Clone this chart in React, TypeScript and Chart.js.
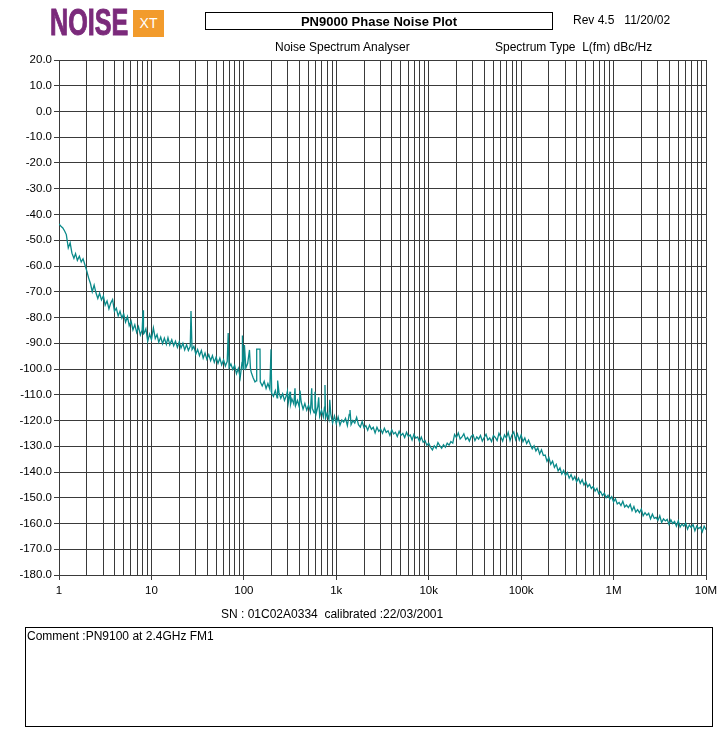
import React, { useEffect, useRef } from 'react';
import { Chart, registerables } from 'chart.js';

Chart.register(...registerables);

// ---- Data: offset frequency (Hz) and phase noise L(fm) (dBc/Hz) ----
const DEC1_HZ = [1, 1.05, 1.1, 1.15, 1.2, 1.26, 1.32, 1.38, 1.45, 1.51, 1.58, 1.66, 1.74, 1.82, 1.91, 2, 2.09, 2.19, 2.29, 2.4, 2.51, 2.63, 2.75, 2.88, 3.02, 3.16, 3.31, 3.47, 3.63, 3.8, 3.98, 4.17, 4.37, 4.57, 4.79, 5.01, 5.25, 5.5, 5.75, 6.03, 6.31, 6.61, 6.92, 7.24, 7.59, 7.94, 8.12, 8.2, 8.32, 8.71, 9.12, 9.55];
const DEC1_DB = [-43.6, -44.6, -45.2, -46.4, -47.8, -53, -51, -55, -57, -55.2, -57.8, -56.2, -58.4, -57.2, -59.6, -62, -64.6, -66.8, -70, -67.4, -70.4, -72.6, -70.6, -73.2, -71.6, -75.2, -73.6, -76.6, -74.4, -73, -77.6, -76.4, -79.4, -77.6, -80.2, -78.6, -81.8, -79.6, -83.2, -81.4, -84.8, -82.8, -85.8, -83.6, -86.8, -84.8, -77.2, -86.4, -86.2, -84.4, -89.2, -86.4];

const DEC2_HZ = [10, 10.5, 11, 11.5, 12, 12.6, 13.2, 13.8, 14.5, 15.1, 15.8, 16.6, 17.4, 18.2, 19.1, 20, 20.9, 21.9, 22.9, 24, 25.1, 26.3, 26.8, 27.5, 28.8, 30.2, 31.6, 33.1, 34.7, 36.3, 38, 39.8, 41.7, 43.7, 45.7, 47.9, 50.1, 52.5, 55, 57.5, 60.3, 63.1, 66.1, 67.7, 69.2, 72.4, 75.9, 79.4, 83.2, 87.1, 91.2, 95.5, 96.5, 98];
const DEC2_DB = [-88.6, -84, -88.2, -86.6, -89.6, -87.6, -90.2, -88, -90.4, -87.8, -90.6, -88.6, -91, -89.2, -91.6, -89.4, -91.8, -90, -92.6, -90.6, -92.8, -91.2, -77.5, -92.4, -91.2, -94.2, -92.4, -94.8, -92.8, -95.8, -93.8, -96.2, -94.4, -96.8, -94.8, -97.4, -95.4, -97.8, -95.8, -98.4, -96.4, -98.8, -97, -86, -99.4, -98, -100.2, -98.6, -101.8, -99.8, -103.4, -97.4, -87, -100];

const DEC3_HZ = [100, 101.5, 105, 110, 115, 118, 120, 126, 132, 136, 137.7, 145, 149.5, 150.5, 158, 166, 174, 182, 191, 196.6, 200, 209, 219, 229, 232, 240, 251, 263, 275, 288, 296, 302, 316, 320, 331, 347, 357.5, 363, 380, 398, 405, 417, 437, 457, 479, 501, 525, 542, 550, 575, 588.4, 603, 631, 645, 661, 692, 724, 745, 754.7, 765, 794, 832, 850, 871, 912, 955];
const DEC3_DB = [-99.2, -90.7, -99.6, -97.8, -92.6, -100, -101.2, -103.4, -105, -104.6, -92.3, -92.3, -92.3, -105, -106.6, -104.8, -107.6, -105.6, -107.8, -92.3, -109.4, -110.6, -108.4, -111.2, -104.5, -109.2, -111.4, -109.6, -112.2, -110.4, -108.6, -113.2, -108.8, -113.8, -111.6, -113.6, -107.5, -114.2, -112.2, -114.8, -108.4, -112.8, -115.6, -113.4, -116, -114, -116.6, -107.5, -115.2, -117, -108.8, -117.6, -114.6, -111, -118.4, -116, -118.6, -114.8, -106.2, -119.2, -117.2, -119.6, -112, -117.4, -121, -118.2];

const DEC4_HZ = [1000, 1047, 1096, 1148, 1202, 1259, 1318, 1380, 1407, 1445, 1514, 1585, 1660, 1738, 1820, 1905, 1995, 2089, 2188, 2291, 2399, 2512, 2630, 2754, 2884, 3020, 3162, 3311, 3467, 3631, 3802, 3981, 4169, 4365, 4571, 4786, 5012, 5248, 5495, 5754, 6026, 6310, 6607, 6918, 7244, 7586, 7943, 8318, 8710, 9120, 9550];
const DEC4_DB = [-121.2, -118.6, -121.8, -119.8, -120.6, -119.2, -122, -117.6, -115.9, -121.6, -120, -121, -118.8, -121.6, -122.6, -120.4, -122.8, -122, -123.8, -121.8, -123.4, -122.6, -124.8, -122.6, -124.2, -123.4, -125, -123, -124.6, -124, -125.8, -123.6, -125.2, -124.6, -126.2, -124.2, -125.8, -125, -126.6, -124.6, -126.2, -125.6, -127.6, -125.4, -126.8, -126.4, -128.2, -126.4, -128.4, -127.8, -129.6];

const DEC5_HZ = [10000, 10470, 10960, 11480, 12020, 12590, 13180, 13800, 14450, 15140, 15850, 16600, 17380, 18200, 19050, 19950, 20890, 21880, 22910, 23990, 25120, 26300, 27540, 28840, 30200, 31620, 33110, 34670, 36310, 38020, 39810, 41690, 43650, 45710, 47860, 50120, 52480, 54950, 57540, 60260, 63100, 66070, 69180, 72440, 75860, 79430, 83180, 87100, 91200, 95500];
const DEC5_DB = [-128.8, -130.4, -131.4, -129.8, -130.8, -128.6, -129.8, -130.8, -129.4, -130.4, -128.8, -129.6, -128.2, -128.8, -125.4, -126.6, -124.8, -127.2, -126.4, -125.2, -127.4, -126.6, -128, -126.2, -125.6, -127.8, -126.4, -127.2, -125.8, -128, -126.6, -125.4, -127.6, -126.8, -128.2, -125.8, -126.6, -127.8, -125, -126.4, -128, -125.6, -126.8, -124.6, -127.8, -125.6, -124.4, -127.4, -125.2, -127.6];

const DEC6_HZ = [100000, 104700, 109600, 114800, 120200, 125900, 131800, 138000, 144500, 151400, 158500, 166000, 173800, 182000, 190500, 199500, 208900, 218800, 229100, 239900, 251200, 263000, 275400, 288400, 302000, 316200, 331100, 346700, 363100, 380200, 398100, 416900, 436500, 457100, 478600, 501200, 524800, 549500, 575400, 602600, 631000, 660700, 691800, 724400, 758600, 794300, 831800, 871000, 912000, 955000];
const DEC6_DB = [-125.6, -128.2, -126.8, -129, -127.6, -129.4, -131, -129.8, -131.8, -130.6, -133, -131.4, -133.6, -133.4, -135.8, -134.4, -137, -135.8, -138.2, -137, -139.6, -138.4, -140.8, -139.4, -141.4, -140.2, -142.4, -141, -143, -141.8, -143.8, -142.4, -144.4, -143, -145, -143.8, -145.8, -144.8, -146.4, -145.6, -147.4, -146.4, -148.4, -147.6, -149.2, -148.2, -150, -149, -150.6, -149.6];

const DEC7_HZ = [1000000, 1047000, 1096000, 1148000, 1202000, 1259000, 1318000, 1380000, 1445000, 1514000, 1585000, 1660000, 1738000, 1820000, 1905000, 1995000, 2089000, 2188000, 2291000, 2399000, 2512000, 2630000, 2754000, 2884000, 3020000, 3162000, 3311000, 3467000, 3631000, 3802000, 3981000, 4169000, 4365000, 4571000, 4786000, 5012000, 5248000, 5495000, 5754000, 6026000, 6310000, 6607000, 6918000, 7244000, 7586000, 7943000, 8318000, 8710000, 9120000, 9550000, 10000000];
const DEC7_DB = [-151.6, -150.4, -152.4, -151.8, -153, -151.4, -153.6, -152.8, -153.8, -152.6, -155, -153.4, -155.6, -154.6, -155.8, -154.4, -157, -155.8, -156.8, -156, -158.2, -156.4, -158, -157.6, -158.8, -157, -159.6, -158.2, -159, -158.4, -160.4, -158.6, -160, -159.2, -161, -159, -161.4, -160.2, -161, -159.8, -162.2, -160.6, -161.6, -160.4, -162.8, -161, -162, -161.4, -163.2, -161, -162.4];

// ---- Axes ----
const X_TICK_LABELS = ['1', '10', '100', '1k', '10k', '100k', '1M', '10M'];
const X_GRID_MANTISSAS = [1, 2, 3, 4, 5, 6, 7, 8, 9];
const X_MIN = 1;
const X_MAX = 10000000;
const Y_MIN = -180;
const Y_MAX = 20;
const Y_STEP = 10;

// ---- Texts ----
const TITLE = 'PN9000 Phase Noise Plot';
const REV_TEXT = 'Rev 4.5   11/20/02';
const ANALYSER_TEXT = 'Noise Spectrum Analyser';
const SPECTRUM_TYPE_TEXT = 'Spectrum Type  L(fm) dBc/Hz';
const SN_TEXT = 'SN : 01C02A0334  calibrated :22/03/2001';
const COMMENT_TEXT = 'Comment :PN9100 at 2.4GHz FM1';

const TRACE_COLOR = '#0a8a8a';
const GRID_COLOR = '#3a3a3a';
const FONT = "'Liberation Sans', Arial, sans-serif";

function isDecade(v: number) {
  const l = Math.log10(v);
  return Math.abs(l - Math.round(l)) < 1e-9;
}

const textStyle = (left: number, top: number, extra: React.CSSProperties = {}): React.CSSProperties => ({
  position: 'absolute',
  left,
  top,
  fontFamily: FONT,
  fontSize: 12,
  lineHeight: '14px',
  color: '#000',
  whiteSpace: 'pre',
  ...extra,
});

export default function App() {
  const canvasRef = useRef<HTMLCanvasElement | null>(null);

  useEffect(() => {
    const hz = [...DEC1_HZ, ...DEC2_HZ, ...DEC3_HZ, ...DEC4_HZ, ...DEC5_HZ, ...DEC6_HZ, ...DEC7_HZ];
    const db = [...DEC1_DB, ...DEC2_DB, ...DEC3_DB, ...DEC4_DB, ...DEC5_DB, ...DEC6_DB, ...DEC7_DB];
    const points = hz.map((f, i) => ({ x: f, y: db[i] }));

    const gridHz: number[] = [];
    for (let d = 0; d < X_TICK_LABELS.length - 1; d++) {
      for (const m of X_GRID_MANTISSAS) gridHz.push(m * Math.pow(10, d));
    }
    gridHz.push(X_MAX);

    const chart = new Chart(canvasRef.current as HTMLCanvasElement, {
      type: 'line',
      data: {
        datasets: [
          {
            data: points,
            borderColor: TRACE_COLOR,
            borderWidth: 1.3,
            pointRadius: 0,
            tension: 0,
            fill: false,
          },
        ],
      },
      options: {
        responsive: false,
        animation: false,
        devicePixelRatio: 1,
        layout: { padding: { left: 0, top: 60, right: 18, bottom: 131 } },
        plugins: { legend: { display: false }, tooltip: { enabled: false } },
        scales: {
          x: {
            type: 'logarithmic',
            min: X_MIN,
            max: X_MAX,
            afterBuildTicks: (scale: any) => {
              scale.ticks = gridHz.map((v) => ({ value: v, major: isDecade(v) }));
            },
            afterFit: (scale: any) => {
              scale.height = 25;
            },
            ticks: {
              autoSkip: false,
              maxRotation: 0,
              minRotation: 0,
              padding: 4,
              color: '#000',
              font: { family: FONT, size: 11.5 },
              callback: (value: any) => {
                const v = Number(value);
                if (!isDecade(v)) return '';
                return X_TICK_LABELS[Math.round(Math.log10(v))];
              },
            },
            grid: {
              color: GRID_COLOR,
              lineWidth: 1,
              tickLength: 5,
              tickColor: (ctx: any) => (ctx.tick && isDecade(ctx.tick.value) ? GRID_COLOR : 'rgba(0,0,0,0)'),
            },
            border: { color: GRID_COLOR },
          },
          y: {
            type: 'linear',
            min: Y_MIN,
            max: Y_MAX,
            afterFit: (scale: any) => {
              scale.width = 59;
            },
            ticks: {
              stepSize: Y_STEP,
              padding: 2,
              color: '#000',
              font: { family: FONT, size: 11.5 },
              callback: (value: any) => Number(value).toFixed(1),
            },
            grid: { color: GRID_COLOR, lineWidth: 1, tickLength: 5 },
            border: { color: GRID_COLOR },
          },
        },
      },
    });
    return () => chart.destroy();
  }, []);

  return (
    <div style={{ position: 'absolute', left: 0, top: 0, width: 724, height: 731, background: '#fff', overflow: 'hidden' }}>
      <canvas ref={canvasRef} width={724} height={731} style={{ position: 'absolute', left: 0, top: 0, width: 724, height: 731 }} />
      {/* Logo */}
      <div
        style={{
          position: 'absolute',
          left: 50,
          top: 4,
          fontFamily: FONT,
          fontWeight: 700,
          fontSize: 37,
          lineHeight: '37px',
          color: '#7b2a7b',
          transform: 'scaleX(0.68)',
          transformOrigin: 'left top',
          whiteSpace: 'pre',
          WebkitTextStroke: '1px #7b2a7b',
        }}
      >
        NOISE
      </div>
      <div
        style={{
          position: 'absolute',
          left: 133,
          top: 10,
          width: 31,
          height: 27,
          background: '#f29b2c',
          color: '#fff',
          fontFamily: FONT,
          fontSize: 14,
          lineHeight: '27px',
          textAlign: 'center',
        }}
      >
        XT
      </div>
      {/* Title box */}
      <div
        style={{
          position: 'absolute',
          left: 205,
          top: 12,
          width: 348,
          height: 18,
          boxSizing: 'border-box',
          border: '1px solid #000',
          display: 'flex',
          alignItems: 'center',
          justifyContent: 'center',
          fontFamily: FONT,
          fontWeight: 700,
          fontSize: 13,
          color: '#000',
        }}
      >
        {TITLE}
      </div>
      <div style={textStyle(573, 13)}>{REV_TEXT}</div>
      <div style={textStyle(275, 40)}>{ANALYSER_TEXT}</div>
      <div style={textStyle(495, 40)}>{SPECTRUM_TYPE_TEXT}</div>
      <div style={textStyle(221, 607)}>{SN_TEXT}</div>
      {/* Comment box */}
      <div
        style={{
          position: 'absolute',
          left: 25,
          top: 627,
          width: 688,
          height: 100,
          boxSizing: 'border-box',
          border: '1px solid #000',
        }}
      >
        <div style={textStyle(1, 1)}>{COMMENT_TEXT}</div>
      </div>
    </div>
  );
}
